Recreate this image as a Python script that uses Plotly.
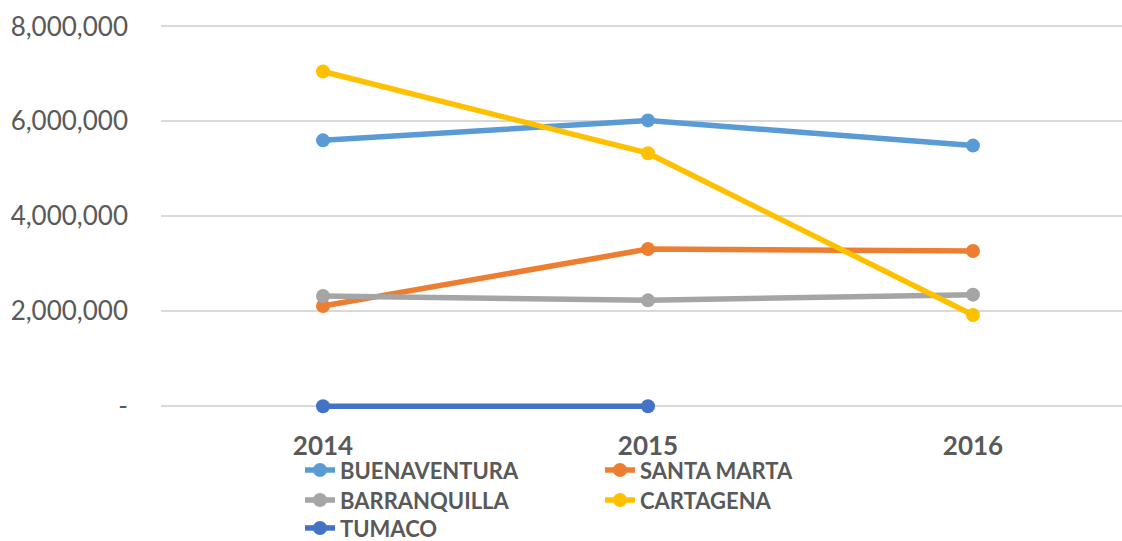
import plotly.graph_objects as go

years = ["2014", "2015", "2016"]
buenaventura = [5600000, 6020000, 5490000]
santa_marta = [2110000, 3310000, 3270000]
barranquilla = [2320000, 2230000, 2350000]
cartagena = [7050000, 5330000, 1920000]
tumaco = [0, 0, None]

y_tickvals = [0, 2000000, 4000000, 6000000, 8000000]
y_ticktext = ["-", "2,000,000", "4,000,000", "6,000,000", "8,000,000"]

series = [
    ("BUENAVENTURA", buenaventura, "#5B9BD5", "legend"),
    ("SANTA MARTA", santa_marta, "#ED7D31", "legend"),
    ("BARRANQUILLA", barranquilla, "#A5A5A5", "legend2"),
    ("CARTAGENA", cartagena, "#FFC000", "legend2"),
    ("TUMACO", tumaco, "#4472C4", "legend3"),
]

fig = go.Figure()
for name, vals, color, lg in series:
    fig.add_trace(go.Scatter(
        x=years, y=vals, name=name, mode="lines+markers",
        line=dict(color=color, width=5.5),
        marker=dict(color=color, size=14),
        cliponaxis=False, legend=lg,
    ))

W, H = 1122, 541
L = 161
plot_w = W - L
y_lo, y_hi = -80000, 8030000
px_per_unit = 380 / 8000000
plot_h = (y_hi - y_lo) * px_per_unit
top = 26 - (y_hi - 8000000) * px_per_unit
bottom = H - top - plot_h
plot_bottom = top + plot_h

cat_px = 325
first_cat = 323
r0 = -(first_cat - L) / cat_px
r1 = r0 + plot_w / cat_px

legend_font = dict(size=22, color="#595959", family="Lato, Open Sans, sans-serif", weight="bold")
leg_x = (300 - L) / plot_w
def lg(top_px):
    return dict(orientation="h", x=leg_x, y=-(top_px - plot_bottom) / plot_h,
                xanchor="left", yanchor="top",
                entrywidth=255, entrywidthmode="pixels", font=legend_font,
                traceorder="normal", itemwidth=30, bgcolor="rgba(0,0,0,0)")

fig.update_layout(
    width=W, height=H,
    margin=dict(l=L, r=0, t=top, b=bottom, autoexpand=False),
    plot_bgcolor="white", paper_bgcolor="white",
    font=dict(family="Lato, Open Sans, sans-serif", color="#595959"),
    showlegend=True,
    legend=lg(449),
    legend2=lg(479),
    legend3=lg(507),
    xaxis=dict(
        type="category", range=[r0, r1],
        showgrid=False, zeroline=False, showline=False,
        tickfont=dict(size=26, color="#595959", weight="bold"),
        ticklabelstandoff=18,
    ),
    yaxis=dict(
        range=[y_lo, y_hi], tickvals=y_tickvals, ticktext=y_ticktext,
        showgrid=True, gridcolor="#D9D9D9", gridwidth=1.5,
        zeroline=False, showline=False,
        tickfont=dict(size=26, color="#595959"),
        ticklabelstandoff=32,
    ),
)

fig.write_html(
    "out.html",
    config={"displayModeBar": False},
    post_script="document.documentElement.style.overflow='hidden';"
                "document.body.style.margin='0';document.body.style.overflow='hidden';",
)
